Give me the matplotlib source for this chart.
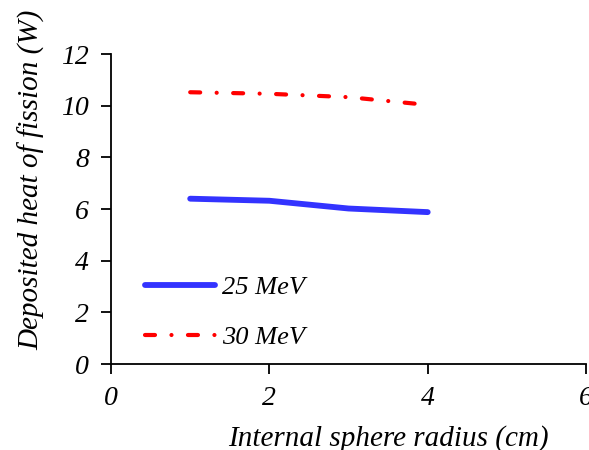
import matplotlib
matplotlib.use("Agg")
import matplotlib.pyplot as plt

radius = [1, 2, 3, 4]
heat_25 = [6.40, 6.32, 6.02, 5.88]
heat_30 = [10.52, 10.46, 10.33, 10.03]
labels = ["25 MeV", "30 MeV"]
xticks = [0, 2, 4, 6]
yticks = [0, 2, 4, 6, 8, 10, 12]

plt.rcParams['font.family'] = ['Liberation Serif', 'DejaVu Serif']
plt.rcParams['font.style'] = 'italic'

fig = plt.figure(figsize=(5.89, 4.5), dpi=100)
ax = fig.add_axes([0.1885, 0.191, 0.8065, 0.689])

ax.plot(radius, heat_25, color='#3333FF', lw=4.2, solid_capstyle='round', label=labels[0])
ax.plot(radius, heat_30, color='#FF0000', lw=3.0, dash_capstyle='round',
        linestyle=(0, (2.4, 3.95, 0.01, 3.95)), label=labels[1])

ax.set_xlim(0, 6)
ax.set_ylim(0, 12)
ax.set_xticks(xticks)
ax.set_yticks(yticks)
ax.set_xticklabels([str(t) for t in xticks], fontsize=20, style='italic')
ax.set_yticklabels([str(t) for t in yticks], fontsize=20, style='italic')
ax.tick_params(direction='out', length=7, width=1.3, pad=9)
for s in ['top', 'right']:
    ax.spines[s].set_visible(False)
for s in ['left', 'bottom']:
    ax.spines[s].set_linewidth(1.3)

ax.set_ylabel("Deposited heat of fission (W)", fontsize=21, style='italic')
ax.set_xlabel("Internal sphere radius (cm)", fontsize=21, style='italic')
ax.yaxis.set_label_coords(-0.139, 0.594)
ax.xaxis.set_label_coords(0.583, -0.197)

leg = ax.legend(loc='center left', bbox_to_anchor=(0.071, 0.1675), frameon=False,
                fontsize=19, handlelength=2.65, handletextpad=0.27, labelspacing=1.0,
                borderpad=0, borderaxespad=0)

fig.savefig("out.png", dpi=100)
